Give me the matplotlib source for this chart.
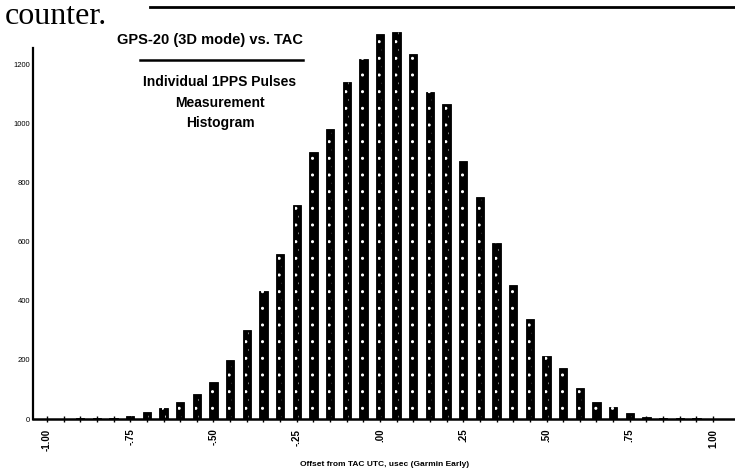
import numpy as np
import matplotlib.pyplot as plt
from matplotlib.lines import Line2D

# histogram of individual 1PPS pulse offsets, bins of 0.05 usec
offsets = np.round(np.arange(-1.00, 1.0001, 0.05), 2)
counts = [1, 1, 2, 3, 5, 10, 23, 38, 57, 84,
          125, 201, 301, 434, 557, 723, 902, 980, 1139, 1216,
          1302, 1307, 1234, 1107, 1065, 873, 749, 594, 453, 338,
          214, 173, 105, 57, 41, 21, 8, 4, 3, 2, 1]

xticks = [-1.00, -0.75, -0.50, -0.25, 0.00, 0.25, 0.50, 0.75, 1.00]
xticklabels = ['-1.00', '-.75', '-.50', '-.25', '.00', '.25', '.50', '.75', '1.00']
yticks = [0, 200, 400, 600, 800, 1000, 1200]

W, H = 735, 472
fig = plt.figure(figsize=(W / 100, H / 100), dpi=100)
ax = fig.add_axes([33 / W, 53 / H, (W - 33) / W, (419 - 30) / H])

ax.bar(offsets, counts, width=0.025, color='black', edgecolor='black', linewidth=0.6)
# speckled look of the scanned bars
ax.bar(offsets, counts, width=0.012, color='none', edgecolor='white', hatch='..',
       linewidth=0)

ax.set_xlim(-1.042, 1.066)
ax.set_ylim(0, 1315)

for s in ['top', 'right']:
    ax.spines[s].set_visible(False)
ax.spines['left'].set_bounds(0, 1254)
ax.spines['left'].set_linewidth(1.6)
ax.spines['bottom'].set_linewidth(1.8)

ax.set_xticks(xticks)
ax.set_xticklabels(xticklabels, rotation=90, fontsize=7, fontweight='bold',
                   family='Liberation Sans')
ax.set_xticks(np.arange(-1.0, 1.0001, 0.05), minor=True)
ax.tick_params(axis='x', which='both', direction='inout', length=4, width=1, pad=5)

ax.set_yticks(yticks)
ax.set_yticklabels([str(v) for v in yticks], fontsize=5.5, family='Liberation Sans')
ax.tick_params(axis='y', length=0, pad=2)

fig.text(5 / W, (H - 24) / H, 'counter.', family='Liberation Serif', fontsize=23,
         ha='left', va='baseline')
fig.add_artist(Line2D([150 / W, 1.0], [(H - 7) / H, (H - 7) / H], color='black',
                      linewidth=2, transform=fig.transFigure))

fig.text(210 / W, (H - 40) / H, 'GPS-20 (3D mode) vs. TAC', family='Liberation Sans',
         fontweight='bold', fontsize=10.5, ha='center', va='center')
fig.add_artist(Line2D([140 / W, 303 / W], [(H - 60) / H, (H - 60) / H], color='black',
                      linewidth=1.8, transform=fig.transFigure))
for txt, y in [('Individual 1PPS Pulses', 82), ('Measurement', 103), ('Histogram', 123)]:
    fig.text(220 / W, (H - y) / H, txt, family='Liberation Sans', fontweight='bold',
             fontsize=10, ha='center', va='center')

fig.text(385 / W, (H - 465) / H, 'Offset from TAC UTC, usec (Garmin Early)',
         family='Liberation Sans', fontweight='bold', fontsize=6, ha='center', va='center')

fig.savefig('out.png', dpi=100)
